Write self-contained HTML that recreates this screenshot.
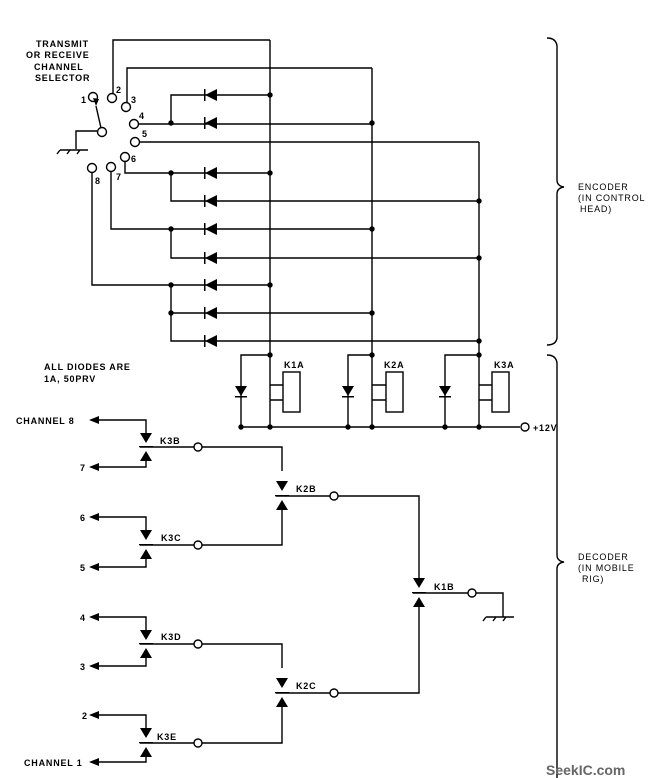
<!DOCTYPE html>
<html><head><style>body{margin:0;background:#fff}svg{display:block}text{font-family:"Liberation Sans",sans-serif;font-size:9px;font-weight:bold;letter-spacing:0.8px;fill:#000}</style></head><body>
<svg width="669" height="778" viewBox="0 0 669 778" xmlns="http://www.w3.org/2000/svg">
<g stroke="#000" stroke-width="1.4" fill="none">
<circle cx="93" cy="97" r="4.5" fill="#fff"/><circle cx="112" cy="98" r="4.5" fill="#fff"/><circle cx="126" cy="107" r="4.5" fill="#fff"/><circle cx="134" cy="124" r="4.5" fill="#fff"/><circle cx="135" cy="142" r="4.5" fill="#fff"/><circle cx="125" cy="157" r="4.5" fill="#fff"/><circle cx="111" cy="167" r="4.5" fill="#fff"/><circle cx="92" cy="168" r="4.5" fill="#fff"/>
<circle cx="102" cy="132" r="4.5" fill="#fff"/>
<path d="M101 128 L96 106"/><path d="M97 131 H76 V149 M60 150 H88 M60 150 l-3 4 M70 150 l-3 4 M80 150 l-3 4"/>
<path d="M113 94 V40 H270 M127 103 V68 H372 M138 124 H372 M140 142 H479 M125 162 V173 H270 M111 172 V229 H372 M92 173 V285 H270"/>
<path d="M270 95 H171 V123 M171 173 V201 H479 M171 229 V258 H479 M171 285 V341 H479 M171 313 H372"/>
<path d="M270 40 V427 M372 68 V427 M479 142 V427"/>
<path d="M241 427 H520 M270 355 H241 V427 M372 355 H348 V427 M479 355 H445 V427"/>
<rect x="283" y="372" width="17" height="40"/><rect x="386" y="372" width="17" height="40"/><rect x="492" y="372" width="17" height="40"/>
<path d="M270 385 H283 M283 400 H270"/><path d="M372 385 H386 M386 400 H372"/><path d="M479 385 H492 M492 400 H479"/>
<circle cx="525" cy="427" r="4" fill="#fff"/>
<path d="M547 38 Q556 38 557 46 V180 Q557 186 564 187 Q557 188 557 194 V338 Q556 345 547 345"/>
<path d="M547 355 Q556 355 557 363 V555 Q557 561 564 562 Q557 563 557 569 V778"/>
<path d="M92 420 H146 V433 M92 467 H146 V461 M92 517 H146 V530 M92 567 H146 V559 M92 617 H146 V630 M92 666 H146 V658 M92 715 H146 V728 M92 762 H146 V757"/>
<path d="M140 447 H194 M202 447 H282 V471 M140 545 H194 M202 545 H282 V510 M140 644 H194 M202 644 H282 V668 M140 743 H194 M202 743 H282 V707"/>
<path d="M276 496 H330 M338 496 H419 V580 M276 693 H330 M338 693 H419 V607 M413 593 H468 M476 593 H503 V617 M486 617 H514 M486 617 l-3 4 M496 617 l-3 4 M506 617 l-3 4"/>
<g fill="#fff"><circle cx="198" cy="447" r="4"/><circle cx="198" cy="545" r="4"/><circle cx="198" cy="644" r="4"/><circle cx="198" cy="743" r="4"/><circle cx="334" cy="496" r="4"/><circle cx="334" cy="693" r="4"/><circle cx="472" cy="593" r="4"/></g>
</g>
<g fill="#000">
<g id="d"><path d="M205 95 L217 89 V101 Z"/><rect x="204" y="89" width="1.5" height="12"/></g>
<use href="#d" y="28"/><use href="#d" y="78"/><use href="#d" y="106"/><use href="#d" y="134"/><use href="#d" y="163"/><use href="#d" y="190"/><use href="#d" y="218"/><use href="#d" y="246"/>
<g><circle cx="270" cy="95" r="2.7"/><circle cx="171" cy="123" r="2.7"/><circle cx="372" cy="123" r="2.7"/><circle cx="171" cy="173" r="2.7"/><circle cx="270" cy="173" r="2.7"/><circle cx="479" cy="201" r="2.7"/><circle cx="171" cy="229" r="2.7"/><circle cx="372" cy="229" r="2.7"/><circle cx="479" cy="258" r="2.7"/><circle cx="171" cy="285" r="2.7"/><circle cx="270" cy="285" r="2.7"/><circle cx="171" cy="313" r="2.7"/><circle cx="372" cy="313" r="2.7"/><circle cx="479" cy="341" r="2.7"/>
<circle cx="270" cy="355" r="2.7"/><circle cx="372" cy="355" r="2.7"/><circle cx="479" cy="355" r="2.7"/>
<circle cx="270" cy="427" r="2.7"/><circle cx="241" cy="427" r="2.7"/><circle cx="348" cy="427" r="2.7"/><circle cx="372" cy="427" r="2.7"/><circle cx="445" cy="427" r="2.7"/><circle cx="479" cy="427" r="2.7"/></g>
<path d="M235 386 H247 L241 396 Z"/><rect x="235" y="396" width="12" height="1.5"/>
<path d="M342 386 H354 L348 396 Z"/><rect x="342" y="396" width="12" height="1.5"/>
<path d="M439 386 H451 L445 396 Z"/><rect x="439" y="396" width="12" height="1.5"/>
<path d="M140 433 H152 L146 443 Z M140 461 H152 L146 451 Z M140 530 H152 L146 540 Z M140 559 H152 L146 549 Z M140 630 H152 L146 640 Z M140 658 H152 L146 648 Z M140 728 H152 L146 738 Z M140 757 H152 L146 747 Z"/>
<path d="M276 481 H288 L282 491 Z M276 510 H288 L282 500 Z M276 678 H288 L282 688 Z M276 707 H288 L282 697 Z M413 578 H425 L419 588 Z M413 607 H425 L419 597 Z"/>
<rect x="139" y="446" width="14" height="1.3"/><rect x="139" y="544" width="14" height="1.3"/><rect x="139" y="643" width="14" height="1.3"/><rect x="139" y="742" width="14" height="1.3"/><rect x="275" y="495" width="14" height="1.3"/><rect x="275" y="692" width="14" height="1.3"/><rect x="412" y="592" width="14" height="1.3"/>
<path d="M89 420 l10 -4 v8 Z M89 467 l10 -4 v8 Z M89 517 l10 -4 v8 Z M89 567 l10 -4 v8 Z M89 617 l10 -4 v8 Z M89 666 l10 -4 v8 Z M89 715 l10 -4 v8 Z M89 762 l10 -4 v8 Z"/>
<path d="M96 106 l-3 -8 l6 1 Z"/>
</g>
<text x="36" y="47">TRANSMIT</text><text x="26" y="58">OR RECEIVE</text><text x="34" y="70">CHANNEL</text><text x="35" y="81">SELECTOR</text>
<text x="81" y="103">1</text><text x="116" y="93">2</text><text x="131" y="103">3</text><text x="139" y="119">4</text><text x="142" y="137">5</text><text x="131" y="162">6</text><text x="116" y="180">7</text><text x="95" y="184">8</text>
<text x="44" y="370">ALL DIODES ARE</text><text x="44" y="382">1A, 50PRV</text>
<text x="284" y="368">K1A</text><text x="384" y="368">K2A</text><text x="494" y="368">K3A</text><text x="533" y="431">+12V</text>
<text x="578" y="190" style="font-weight:normal">ENCODER</text><text x="578" y="201" style="font-weight:normal">(IN CONTROL</text><text x="580" y="212" style="font-weight:normal">HEAD)</text>
<text x="578" y="560" style="font-weight:normal">DECODER</text><text x="578" y="571" style="font-weight:normal">(IN MOBILE</text><text x="582" y="582" style="font-weight:normal">RIG)</text>
<text x="16" y="424">CHANNEL 8</text><text x="80" y="471">7</text><text x="80" y="521">6</text><text x="80" y="571">5</text><text x="80" y="621">4</text><text x="80" y="670">3</text><text x="82" y="719">2</text><text x="24" y="766">CHANNEL 1</text>
<text x="160" y="444">K3B</text><text x="161" y="541">K3C</text><text x="161" y="640">K3D</text><text x="157" y="740">K3E</text><text x="296" y="492">K2B</text><text x="296" y="689">K2C</text><text x="434" y="590">K1B</text>
<text x="546" y="775" style="font-size:14px;font-weight:bold;letter-spacing:0;fill:#666">SeekIC.com</text>
</svg>
</body></html>
